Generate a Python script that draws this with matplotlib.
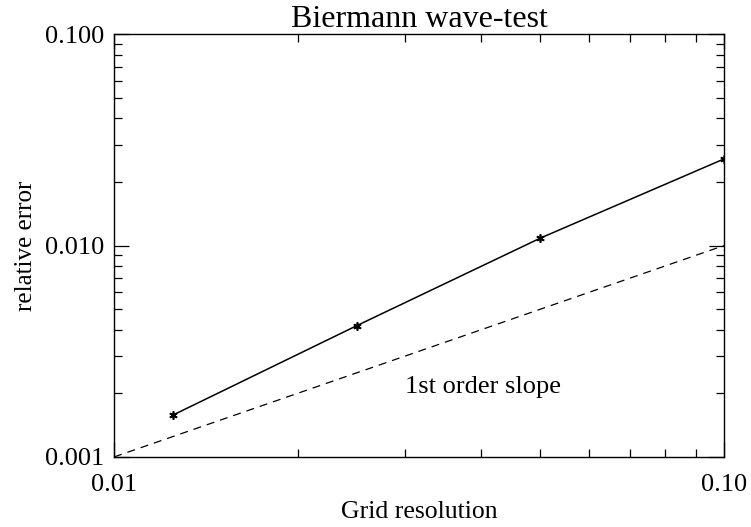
import matplotlib
matplotlib.use("Agg")
import matplotlib.pyplot as plt
from matplotlib.ticker import FixedLocator, FixedFormatter, NullFormatter

plt.rcParams['font.family'] = ['Liberation Serif', 'DejaVu Serif']

# measured errors
grid_res = [0.0125, 0.025, 0.05, 0.1]
rel_error = [0.00158, 0.00418, 0.01085, 0.0257]

# reference first-order line
slope_x = [0.01, 0.1]
slope_y = [0.001, 0.01]

x_ticks = [0.01, 0.1]
x_labels = ['0.01', '0.10']
y_ticks = [0.001, 0.01, 0.1]
y_labels = ['0.001', '0.010', '0.100']

fig = plt.figure(figsize=(7.51, 5.27), dpi=100)
ax = fig.add_axes([0.152, 0.133, 0.812, 0.802])

ax.plot(grid_res, rel_error, color='black', lw=1.1,
        marker=(6, 2, 0), markersize=6, markeredgewidth=1.2)
ax.plot(slope_x, slope_y, color='black', lw=0.9, linestyle=(0, (6.4, 4.8)))
ax.text(0.0300, 0.00201, '1st order slope', fontsize=19)

ax.set_xscale('log')
ax.set_yscale('log')
ax.set_xlim(0.01, 0.1)
ax.set_ylim(0.001, 0.1)

ax.xaxis.set_major_locator(FixedLocator(x_ticks))
ax.xaxis.set_major_formatter(FixedFormatter(x_labels))
ax.yaxis.set_major_locator(FixedLocator(y_ticks))
ax.yaxis.set_major_formatter(FixedFormatter(y_labels))
ax.xaxis.set_minor_formatter(NullFormatter())
ax.yaxis.set_minor_formatter(NullFormatter())

ax.tick_params(which='both', direction='in', top=True, right=True,
               labelsize=19, width=0.9)
ax.tick_params(which='major', length=11)
ax.tick_params(which='minor', length=6)
ax.tick_params(axis='x', which='major', pad=12)
ax.tick_params(axis='y', which='major', pad=7)
for s in ax.spines.values():
    s.set_linewidth(1.0)

ax.set_title('Biermann wave-test', fontsize=23, pad=4)
ax.set_xlabel('Grid resolution', fontsize=18.5, labelpad=4)
ax.set_ylabel('relative error', fontsize=18, labelpad=6)

fig.savefig('out.png', dpi=100)
